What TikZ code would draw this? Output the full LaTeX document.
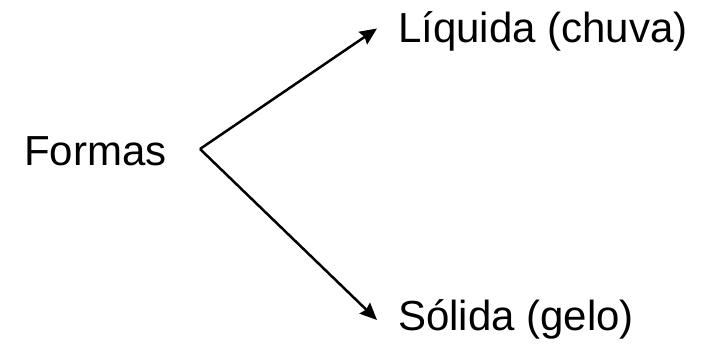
\documentclass[tikz,border=0pt]{standalone}
\usepackage{fontspec}
\setmainfont{Liberation Sans}
\usetikzlibrary{arrows.meta}
\begin{document}
\begin{tikzpicture}[x=1pt,y=1pt,
  lbl/.style={anchor=base west,inner sep=0pt,font=\fontsize{42}{48}\selectfont},
  conn/.style={line width=2.5pt,-{Stealth[length=17pt,width=15pt,inset=2pt]}}]
\useasboundingbox (0,0) rectangle (702,354);
\node[lbl] (formas) at (24,188) {Formas};
\node[lbl] (liq) at (398,311) {Líquida (chuva)};
\node[lbl] (sol) at (398,24) {Sólida (gelo)};
\coordinate (v) at (200,205);
\coordinate (tl) at (377,325.5);
\coordinate (ts) at (377,34);
\draw[conn] (v) -- (tl);
\draw[conn] (v) -- (ts);
\end{tikzpicture}
\end{document}
